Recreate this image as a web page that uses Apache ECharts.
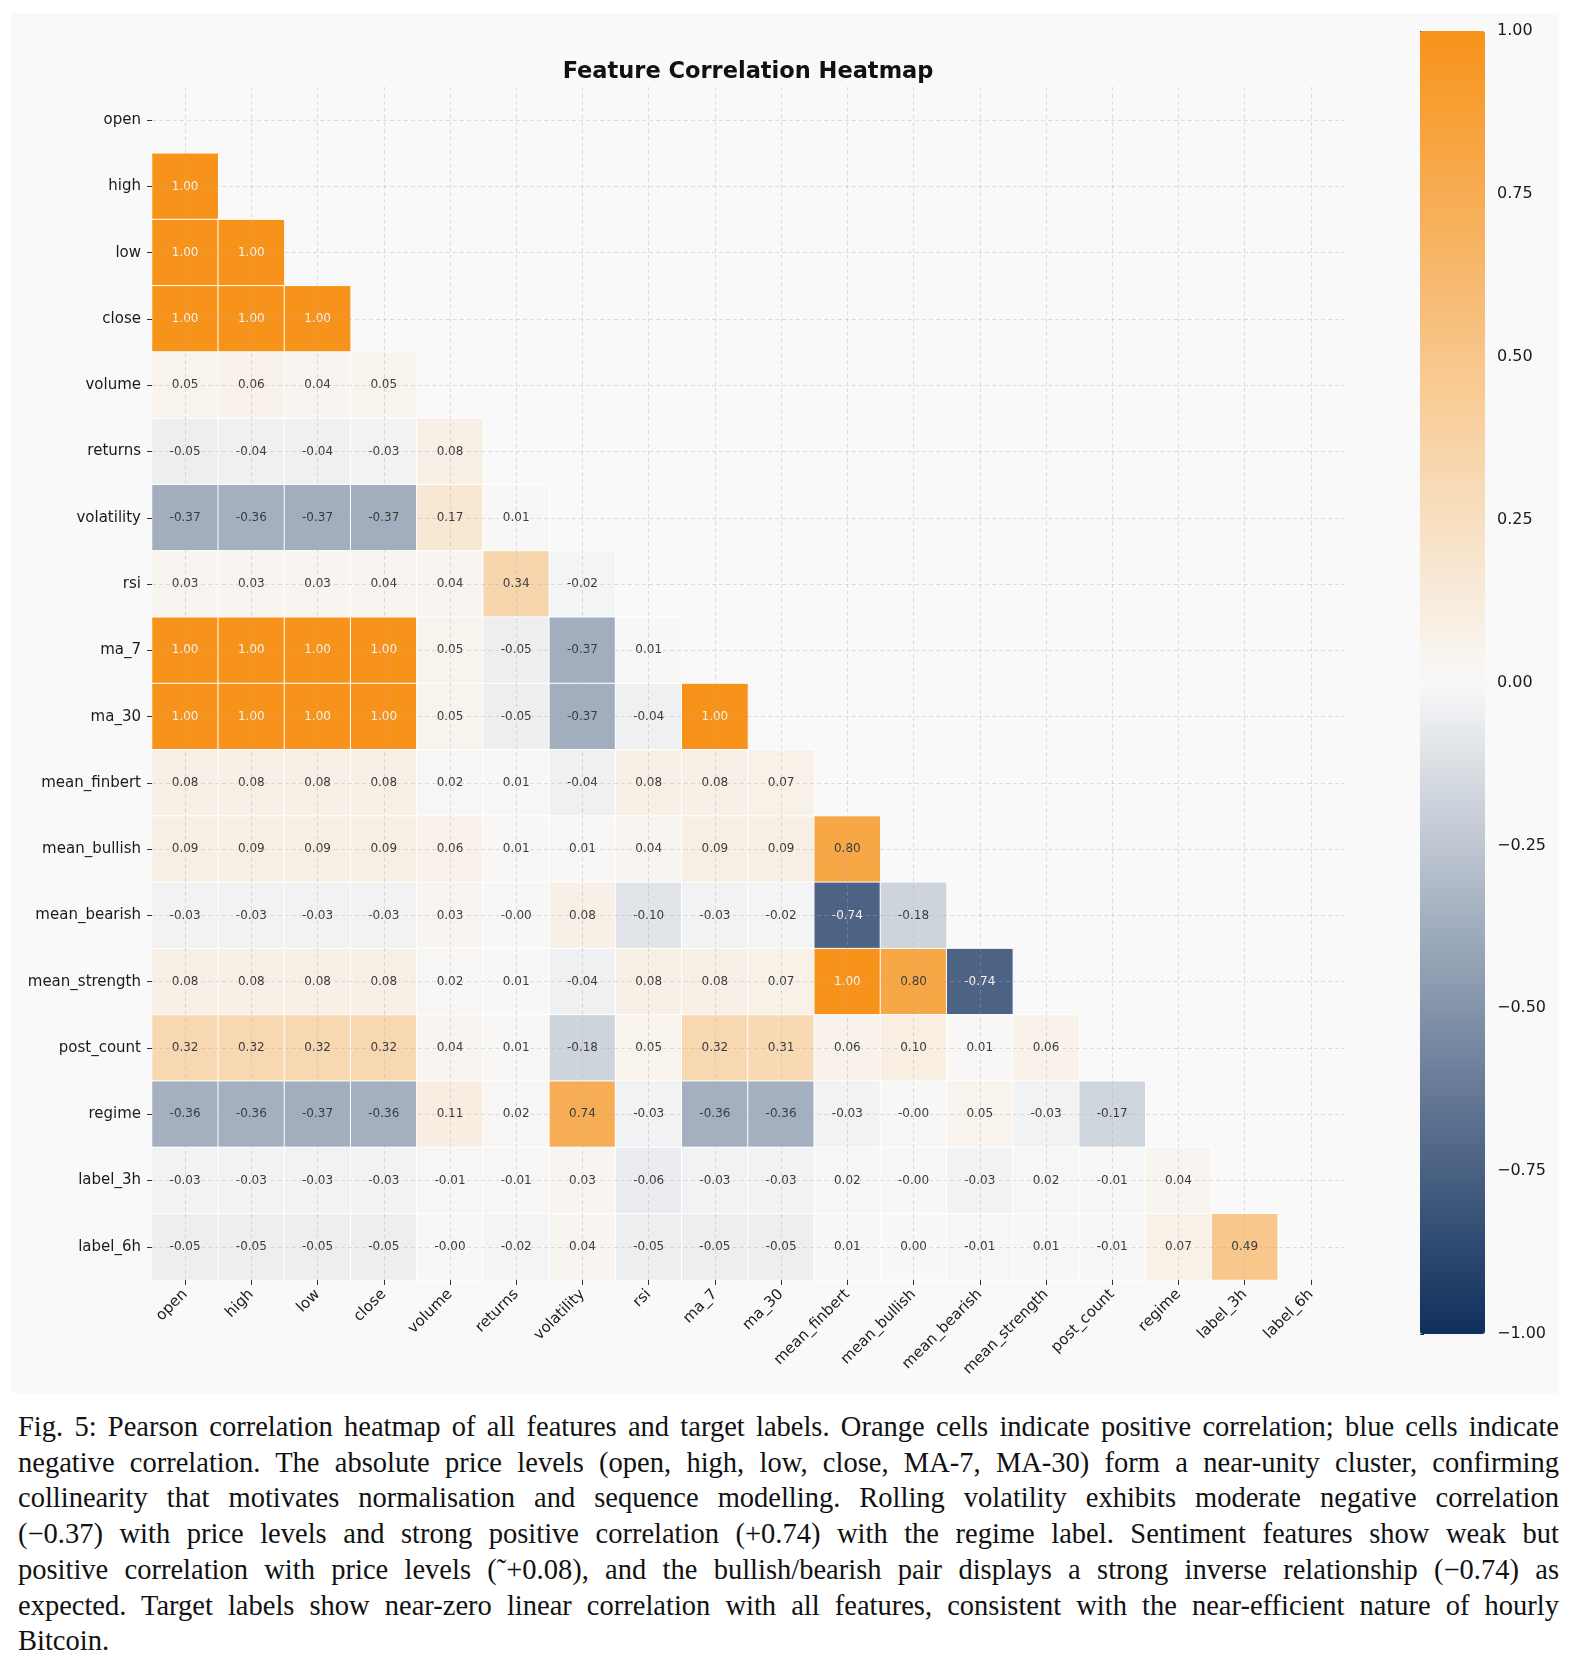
<!DOCTYPE html>
<html>
<head>
<meta charset="utf-8">
<title>Feature Correlation Heatmap</title>
<script src="https://cdn.jsdelivr.net/npm/echarts@6/dist/echarts.min.js"></script>
<style>
  html, body { margin: 0; padding: 0; background: #ffffff; }
  #page { position: relative; width: 1579px; height: 1674px; }
  #chart { position: absolute; left: 11px; top: 13px; width: 1548px; height: 1380px; }
  #caption {
    position: absolute; left: 18px; top: 1409px; width: 1541px;
    font-family: "Liberation Serif", "DejaVu Serif", serif;
    font-size: 28.5px; line-height: 35.7px; color: #111;
  }
  #caption .line { text-align: justify; text-align-last: justify; white-space: nowrap; }
  #caption .line.last { text-align-last: left; }
</style>
</head>
<body>
<div id="page">
  <div id="chart"></div>
  <div id="caption"></div>
</div>
<script>
// features, in row / column order
const features = [
  "open", "high", "low", "close", "volume", "returns", "volatility", "rsi",
  "ma_7", "ma_30", "mean_finbert", "mean_bullish", "mean_bearish",
  "mean_strength", "post_count", "regime", "label_3h", "label_6h"
];

// lower triangle: row i holds correlations with columns 0..i-1
const corrRows = [
  [],
  [1.00],
  [1.00, 1.00],
  [1.00, 1.00, 1.00],
  [0.05, 0.06, 0.04, 0.05],
  [-0.05, -0.04, -0.04, -0.03, 0.08],
  [-0.37, -0.36, -0.37, -0.37, 0.17, 0.01],
  [0.03, 0.03, 0.03, 0.04, 0.04, 0.34, -0.02],
  [1.00, 1.00, 1.00, 1.00, 0.05, -0.05, -0.37, 0.01],
  [1.00, 1.00, 1.00, 1.00, 0.05, -0.05, -0.37, -0.04, 1.00],
  [0.08, 0.08, 0.08, 0.08, 0.02, 0.01, -0.04, 0.08, 0.08, 0.07],
  [0.09, 0.09, 0.09, 0.09, 0.06, 0.01, 0.01, 0.04, 0.09, 0.09, 0.80],
  [-0.03, -0.03, -0.03, -0.03, 0.03, -0.003, 0.08, -0.10, -0.03, -0.02, -0.74, -0.18],
  [0.08, 0.08, 0.08, 0.08, 0.02, 0.01, -0.04, 0.08, 0.08, 0.07, 1.00, 0.80, -0.74],
  [0.32, 0.32, 0.32, 0.32, 0.04, 0.01, -0.18, 0.05, 0.32, 0.31, 0.06, 0.10, 0.01, 0.06],
  [-0.36, -0.36, -0.37, -0.36, 0.11, 0.02, 0.74, -0.03, -0.36, -0.36, -0.03, -0.003, 0.05, -0.03, -0.17],
  [-0.03, -0.03, -0.03, -0.03, -0.01, -0.01, 0.03, -0.06, -0.03, -0.03, 0.02, -0.003, -0.03, 0.02, -0.01, 0.04],
  [-0.05, -0.05, -0.05, -0.05, -0.003, -0.02, 0.04, -0.05, -0.05, -0.05, 0.01, 0.003, -0.01, 0.01, -0.01, 0.07, 0.49]
];

// colour scale: -1 navy, 0 off-white, +1 bitcoin orange
const scaleColors = ["#0f2f5c", "#f8f8f8", "#f7931a"];

const captionLines = [
  "Fig. 5: Pearson correlation heatmap of all features and target labels. Orange cells indicate positive correlation; blue cells indicate",
  "negative correlation. The absolute price levels (open, high, low, close, MA-7, MA-30) form a near-unity cluster, confirming",
  "collinearity that motivates normalisation and sequence modelling. Rolling volatility exhibits moderate negative correlation",
  "(\u22120.37) with price levels and strong positive correlation (+0.74) with the regime label. Sentiment features show weak but",
  "positive correlation with price levels (\u02DC+0.08), and the bullish/bearish pair displays a strong inverse relationship (\u22120.74) as",
  "expected. Target labels show near-zero linear correlation with all features, consistent with the near-efficient nature of hourly",
  "Bitcoin."
];

// ===== caption =====
const captionEl = document.getElementById("caption");
captionLines.forEach((t, i) => {
  const d = document.createElement("div");
  d.className = "line" + (i === captionLines.length - 1 ? " last" : "");
  d.textContent = t;
  captionEl.appendChild(d);
});

// ===== heatmap =====
const FONT = "DejaVu Sans";
const gridLine = { show: true, alignWithLabel: true, lineStyle: { color: "rgba(170,170,170,0.35)", type: [4, 3], width: 1 } };

const cells = [];
corrRows.forEach((row, i) => {
  row.forEach((v, j) => {
    const light = v >= 0.9 || v <= -0.6;
    cells.push({ value: [j, i, v], label: { color: light ? "#f6f1ea" : "#3a3a3a" } });
  });
});

const chart = echarts.init(document.getElementById("chart"));

chart.setOption({
  backgroundColor: "#f9f9f9",
  animation: false,
  title: {
    text: "Feature Correlation Heatmap",
    left: 737,
    top: 48,
    textAlign: "center",
    padding: 0,
    textStyle: { fontFamily: FONT, fontSize: 22.5, fontWeight: "bold", color: "#111" }
  },
  grid: [
    { left: 141, top: 74, width: 1192, height: 1193 },
    { left: 1409, top: 18, width: 65, height: 1303 }
  ],
  xAxis: [
    {
      type: "category",
      data: features,
      gridIndex: 0,
      z: 3,
      axisLine: { show: false },
      axisTick: { show: true, alignWithLabel: true, length: 5, lineStyle: { color: "#333" } },
      axisLabel: { rotate: 45, margin: 12, fontFamily: FONT, fontSize: 15, color: "#1a1a1a", interval: 0 },
      splitLine: gridLine
    },
    { type: "value", gridIndex: 1, show: false, min: 0, max: 1 }
  ],
  yAxis: [
    {
      type: "category",
      data: features,
      inverse: true,
      gridIndex: 0,
      z: 3,
      axisLine: { show: false },
      axisTick: { show: true, alignWithLabel: true, length: 5, lineStyle: { color: "#333" } },
      axisLabel: { margin: 11, fontFamily: FONT, fontSize: 15, color: "#1a1a1a", interval: 0 },
      splitLine: gridLine
    },
    {
      // colour bar scale
      type: "value",
      gridIndex: 1,
      position: "right",
      min: -1,
      max: 1,
      interval: 0.25,
      axisLine: { show: false },
      axisTick: { show: true, length: 4, lineStyle: { color: "#333" } },
      axisLabel: {
        margin: 12,
        fontFamily: FONT,
        fontSize: 16,
        color: "#1a1a1a",
        formatter: (v) => v.toFixed(2).replace("-", "\u2212")
      },
      splitLine: { show: false }
    }
  ],
  visualMap: {
    type: "continuous",
    seriesIndex: 0,
    min: -1,
    max: 1,
    calculable: false,
    orient: "vertical",
    left: 1409,
    top: 18,
    padding: 0,
    itemWidth: 65,
    itemHeight: 1303,
    text: ["", ""],
    showLabel: false,
    hoverLink: false,
    inRange: { color: scaleColors }
  },
  series: [
    {
      type: "heatmap",
      xAxisIndex: 0,
      yAxisIndex: 0,
      z: 1,
      data: cells,
      itemStyle: { borderColor: "#ffffff", borderWidth: 1 },
      label: {
        show: true,
        fontFamily: FONT,
        fontSize: 12,
        formatter: (p) => p.value[2].toFixed(2)
      },
      emphasis: { disabled: true }
    }
  ]
});
</script>
</body>
</html>
